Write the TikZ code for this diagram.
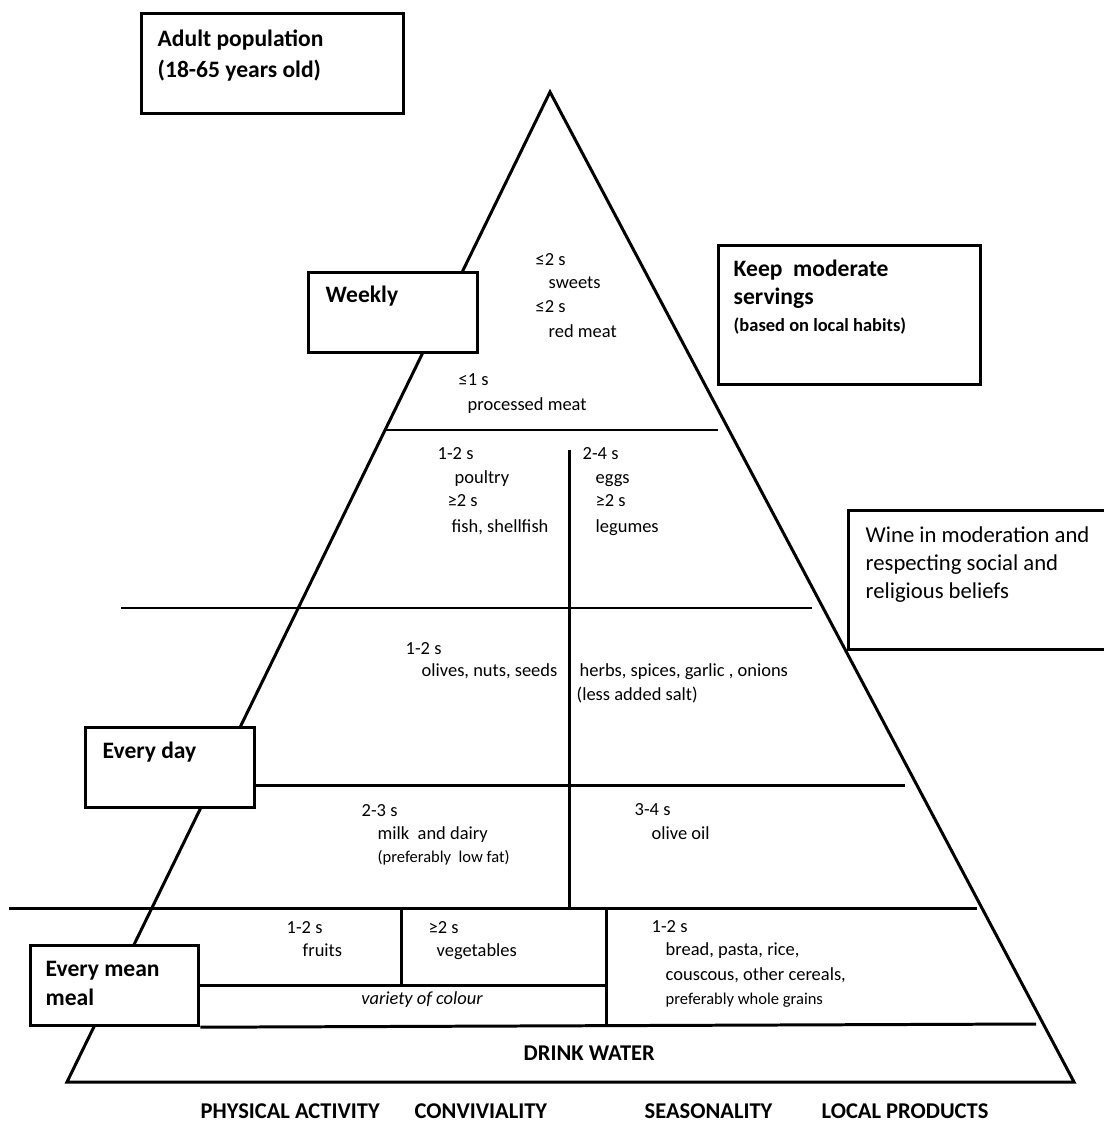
\documentclass[tikz,border=0pt]{standalone}
\usepackage{fontspec}
\setmainfont{Carlito}
\begin{document}
\begin{tikzpicture}[
  x=0.01cm, y=-0.01cm,
  tier/.style={line width=0.85pt, draw=black},
  frame/.style={line width=0.9pt, draw=black, fill=white, anchor=north west, inner sep=0pt},
  head/.style={font=\bfseries\fontsize{6.7}{8}\selectfont, anchor=base west, inner sep=0pt},
  note/.style={font=\fontsize{6.45}{8}\selectfont, anchor=base west, inner sep=0pt},
  serv/.style={font=\fontsize{5.25}{6}\selectfont, anchor=base west, inner sep=0pt},
  fine/.style={font=\fontsize{4.7}{6}\selectfont, anchor=base west, inner sep=0pt},
  caps/.style={font=\bfseries\fontsize{6.4}{7}\selectfont, anchor=base west, inner sep=0pt}
]
  \useasboundingbox (0,0) rectangle (1104,1131);

  % --- PIRÁMIDE ---
  \coordinate (apex) at (550,92);
  \coordinate (baseL) at (67,1082);
  \coordinate (baseR) at (1074,1082);
  \draw[tier] (baseL) -- (apex) -- (baseR) -- cycle;

  % líneas de los niveles
  \draw[tier] (385,430) -- (718,430);
  \draw[tier] (121,608) -- (812,608);
  \draw[tier] (9,908) -- (977,908);
  \draw[tier] (569,450) -- (569,908);      % división central

  % --- CAJAS (tapan el borde del triángulo) ---
  \node[frame, minimum width=2.62cm, minimum height=1.00cm] (adult) at (140,12) {};
  \node[frame, minimum width=1.69cm, minimum height=0.80cm] (weekly) at (307,271) {};
  \node[frame, minimum width=2.62cm, minimum height=1.39cm] (keep) at (717,244) {};
  \node[frame, minimum width=2.70cm, minimum height=1.39cm] (wine) at (847,509) {};
  \node[frame, minimum width=1.69cm, minimum height=0.80cm] (everyday) at (84,726) {};
  \node[frame, minimum width=1.68cm, minimum height=0.80cm] (meal) at (29,944) {};

  \draw[tier] (everyday.east |- 0,785) -- (905,785);
  \draw[tier] (meal.east |- 0,985) -- (606,985);
  \draw[tier] (meal.south east) -- (1036,1024);
  \draw[tier] (401,908) -- (401,985);
  \draw[tier] (606,908) -- (606,1024);

  % textos de las cajas
  \node[head] (adult1) at (157,47) {Adult population};
  \node[head] (adult2) at (157,78) {(18-65 years old)};
  \node[head] (weekly1) at (325,303) {Weekly};
  \node[head] (keep1) at (733,277) {Keep\ \ moderate};
  \node[head] (keep2) at (733,305) {servings};
  \node[serv, font=\bfseries\fontsize{5.25}{6}\selectfont] (keep3) at (733,332) {(based on local habits)};
  \node[note] (wine1) at (865,542) {Wine in moderation and};
  \node[note] (wine2) at (865,570) {respecting social and};
  \node[note] (wine3) at (865,598) {religious beliefs};
  \node[head] (everyday1) at (102,758) {Every day};
  \node[head] (meal1) at (45,976) {Every mean};
  \node[head] (meal2) at (45,1005) {meal};

  % --- NIVEL SEMANAL ---
  \node[serv] (sw1) at (535,266) {≤2 s};
  \node[serv] (sw2) at (548,289) {sweets};
  \node[serv] (rm1) at (535,313) {≤2 s};
  \node[serv] (rm2) at (548,338) {red meat};
  \node[serv] (pm1) at (458,386) {≤1 s};
  \node[serv] (pm2) at (467,411) {processed meat};

  \node[serv] (po1) at (437,459) {1-2 s};
  \node[serv] (po2) at (454,483) {poultry};
  \node[serv] (fi1) at (447,507) {≥2 s};
  \node[serv] (fi2) at (451,532) {fish, shellfish};
  \node[serv] (eg1) at (582,459) {2-4 s};
  \node[serv] (eg2) at (595,483) {eggs};
  \node[serv] (le1) at (595,507) {≥2 s};
  \node[serv] (le2) at (595,532) {legumes};

  % --- NIVEL DIARIO ---
  \node[serv] (ol1) at (405,654) {1-2 s};
  \node[serv] (ol2) at (421,676) {olives, nuts, seeds};
  \node[serv] (he1) at (579,676) {herbs, spices, garlic , onions};
  \node[serv] (he2) at (576,700) {(less added salt)};

  \node[serv] (mi1) at (361,816) {2-3 s};
  \node[serv] (mi2) at (377,839) {milk\ \ and dairy};
  \node[fine] (mi3) at (377,862) {(preferably\ \ low fat)};
  \node[serv] (oo1) at (634,815) {3-4 s};
  \node[serv] (oo2) at (651,839) {olive oil};

  % --- CADA COMIDA ---
  \node[serv] (fr1) at (286,933) {1-2 s};
  \node[serv] (fr2) at (302,956) {fruits};
  \node[serv] (ve1) at (428,933) {≥2 s};
  \node[serv] (ve2) at (436,956) {vegetables};
  \node[serv, anchor=base, font=\itshape\fontsize{5.25}{6}\selectfont] (variety) at (422,1004) {variety of colour};
  \node[serv] (ce1) at (651,932) {1-2 s};
  \node[serv] (ce2) at (665,955) {bread, pasta, rice,};
  \node[serv] (ce3) at (665,980) {couscous, other cereals,};
  \node[fine] (ce4) at (665,1004) {preferably whole grains};

  \node[caps] (water) at (523,1060) {DRINK WATER};

  % Etiquetas inferiores
  \node[caps] (phys) at (200,1118) {PHYSICAL ACTIVITY};
  \node[caps] (conv) at (414,1118) {CONVIVIALITY};
  \node[caps] (seas) at (644,1118) {SEASONALITY};
  \node[caps] (local) at (821,1118) {LOCAL PRODUCTS};
\end{tikzpicture}
\end{document}
